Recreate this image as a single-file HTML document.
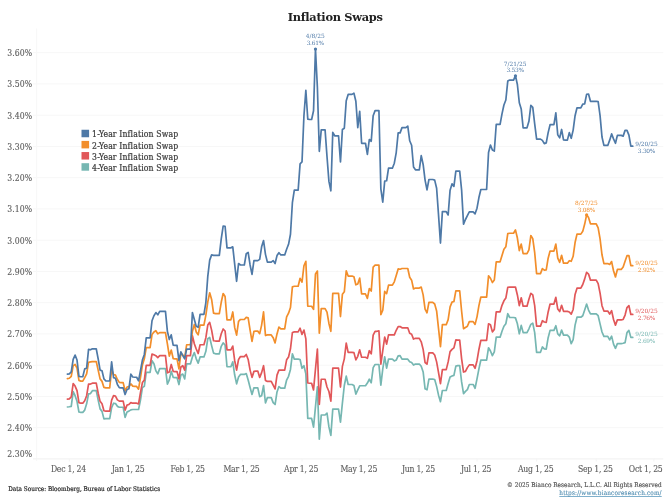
<!DOCTYPE html>
<html lang="en"><head><meta charset="utf-8"><title>Inflation Swaps</title>
<style>
html,body{margin:0;padding:0;background:#fff;}
body{width:670px;height:503px;position:relative;overflow:hidden;font-family:"DejaVu Serif","Liberation Serif",serif;}
.c{font-family:"DejaVu Serif Condensed","DejaVu Serif","Liberation Serif",serif;font-stretch:condensed;}
.title{position:absolute;left:0;width:670.3px;top:9.1px;text-align:center;font-weight:bold;font-size:11.4px;letter-spacing:-0.31px;line-height:16px;color:#222;}
.yl{position:absolute;left:0;width:32.3px;text-align:right;font-size:8.6px;letter-spacing:0.08px;line-height:12px;height:12px;color:#5c5c5c;-webkit-text-stroke:0.12px #5c5c5c;white-space:nowrap;}
.xl{position:absolute;top:462.9px;width:60px;text-align:center;font-size:8.6px;letter-spacing:-0.25px;line-height:12px;color:#5c5c5c;-webkit-text-stroke:0.12px #5c5c5c;white-space:nowrap;}
.leg{position:absolute;left:81.6px;top:129.4px;}
.leg div{position:relative;height:11.15px;line-height:11.15px;font-size:8.6px;letter-spacing:0.13px;color:#3c3c3c;-webkit-text-stroke:0.22px #3c3c3c;padding-left:10.5px;white-space:nowrap;}
.src{position:absolute;left:8.2px;top:483.1px;font-size:6.4px;line-height:12px;color:#2a2a2a;-webkit-text-stroke:0.2px #2a2a2a;white-space:nowrap;}
.cr{position:absolute;right:8.3px;top:479.2px;font-size:6.4px;letter-spacing:0.03px;line-height:12px;color:#505050;-webkit-text-stroke:0.15px #505050;white-space:nowrap;text-align:right;}
.url{position:absolute;right:8.3px;top:487.2px;font-size:6.4px;letter-spacing:0.16px;line-height:12px;color:#4e8cb0;-webkit-text-stroke:0.1px #4e8cb0;white-space:nowrap;text-decoration:underline;text-decoration-thickness:0.6px;text-underline-offset:0.6px;text-decoration-color:#7fb0cc;}
.ann{position:absolute;width:40px;text-align:center;font-size:5.9px;line-height:6.5px;white-space:nowrap;}
.ann b{font-weight:normal;letter-spacing:-0.28px;}
</style></head><body>
<svg width="670" height="503" viewBox="0 0 670 503" style="position:absolute;left:0;top:0">
<line x1="33" x2="663.3" y1="52.70" y2="52.70" stroke="#f7f7f7" stroke-width="1"/>
<line x1="33" x2="663.3" y1="83.95" y2="83.95" stroke="#f7f7f7" stroke-width="1"/>
<line x1="33" x2="663.3" y1="115.20" y2="115.20" stroke="#f7f7f7" stroke-width="1"/>
<line x1="33" x2="663.3" y1="146.45" y2="146.45" stroke="#f7f7f7" stroke-width="1"/>
<line x1="33" x2="663.3" y1="177.70" y2="177.70" stroke="#f7f7f7" stroke-width="1"/>
<line x1="33" x2="663.3" y1="208.95" y2="208.95" stroke="#f7f7f7" stroke-width="1"/>
<line x1="33" x2="663.3" y1="240.20" y2="240.20" stroke="#f7f7f7" stroke-width="1"/>
<line x1="33" x2="663.3" y1="271.45" y2="271.45" stroke="#f7f7f7" stroke-width="1"/>
<line x1="33" x2="663.3" y1="302.70" y2="302.70" stroke="#f7f7f7" stroke-width="1"/>
<line x1="33" x2="663.3" y1="333.95" y2="333.95" stroke="#f7f7f7" stroke-width="1"/>
<line x1="33" x2="663.3" y1="365.20" y2="365.20" stroke="#f7f7f7" stroke-width="1"/>
<line x1="33" x2="663.3" y1="396.45" y2="396.45" stroke="#f7f7f7" stroke-width="1"/>
<line x1="33" x2="663.3" y1="427.70" y2="427.70" stroke="#f7f7f7" stroke-width="1"/>
<line x1="36.6" x2="36.6" y1="28.5" y2="461" stroke="#f8f8f8" stroke-width="1.2"/>
<line x1="33" x2="663.3" y1="458.85" y2="458.85" stroke="#f3f3f3" stroke-width="1.2"/>
<line x1="69.32" x2="69.32" y1="458.6" y2="461.5" stroke="#f4f4f4" stroke-width="1"/>
<line x1="128.94" x2="128.94" y1="458.6" y2="461.5" stroke="#f4f4f4" stroke-width="1"/>
<line x1="188.55" x2="188.55" y1="458.6" y2="461.5" stroke="#f4f4f4" stroke-width="1"/>
<line x1="242.39" x2="242.39" y1="458.6" y2="461.5" stroke="#f4f4f4" stroke-width="1"/>
<line x1="302.01" x2="302.01" y1="458.6" y2="461.5" stroke="#f4f4f4" stroke-width="1"/>
<line x1="359.70" x2="359.70" y1="458.6" y2="461.5" stroke="#f4f4f4" stroke-width="1"/>
<line x1="419.31" x2="419.31" y1="458.6" y2="461.5" stroke="#f4f4f4" stroke-width="1"/>
<line x1="477.00" x2="477.00" y1="458.6" y2="461.5" stroke="#f4f4f4" stroke-width="1"/>
<line x1="536.61" x2="536.61" y1="458.6" y2="461.5" stroke="#f4f4f4" stroke-width="1"/>
<line x1="596.23" x2="596.23" y1="458.6" y2="461.5" stroke="#f4f4f4" stroke-width="1"/>
<line x1="653.91" x2="653.91" y1="458.6" y2="461.5" stroke="#f4f4f4" stroke-width="1"/>
<rect x="81.5" y="129.75" width="7.6" height="7.5" fill="#4E79A7"/>
<rect x="81.5" y="140.90" width="7.6" height="7.5" fill="#F28E2B"/>
<rect x="81.5" y="152.05" width="7.6" height="7.5" fill="#E15759"/>
<rect x="81.5" y="163.20" width="7.6" height="7.5" fill="#76B7B2"/>
<path d="M67.40,406.99 L69.32,406.74 L71.25,406.36 L73.17,391.56 L75.09,395.70 L77.02,401.34 L78.94,412.00 L80.86,412.38 L82.78,412.38 L84.71,410.12 L86.63,403.85 L88.55,393.82 L90.48,393.57 L92.40,390.69 L94.32,390.69 L96.25,390.69 L98.17,400.09 L100.09,408.87 L102.01,411.37 L103.94,418.90 L105.86,418.65 L107.78,418.65 L109.71,418.65 L111.63,407.61 L113.55,403.22 L115.48,403.60 L117.40,406.36 L119.32,407.24 L121.24,407.24 L123.17,407.24 L125.09,417.39 L127.01,412.00 L128.94,411.12 L130.86,409.87 L132.78,409.49 L134.71,409.49 L136.63,409.49 L138.55,409.49 L140.47,400.09 L142.40,387.55 L144.32,386.39 L146.24,372.35 L148.17,372.35 L150.09,372.35 L152.01,360.69 L153.94,363.82 L155.86,370.72 L157.78,373.85 L159.70,368.59 L161.63,368.59 L163.55,368.59 L165.47,368.59 L167.40,384.13 L169.32,379.87 L171.24,371.34 L173.17,377.36 L175.09,377.61 L177.01,377.61 L178.93,384.51 L180.86,375.11 L182.78,374.10 L184.70,378.87 L186.63,363.82 L188.55,363.82 L190.47,363.82 L192.40,356.93 L194.32,352.54 L196.24,358.81 L198.16,363.19 L200.09,356.93 L202.01,356.93 L203.93,356.93 L205.86,351.28 L207.78,338.75 L209.70,337.49 L211.62,345.64 L213.55,353.16 L215.47,353.82 L217.39,353.82 L219.32,353.82 L221.24,346.30 L223.16,342.91 L225.09,345.05 L227.01,366.74 L228.93,366.74 L230.86,366.74 L232.78,361.88 L234.70,375.05 L236.62,383.82 L238.55,376.93 L240.47,374.42 L242.39,374.42 L244.32,374.42 L246.24,373.54 L248.16,380.06 L250.09,387.58 L252.01,394.48 L253.93,387.83 L255.85,387.83 L257.78,387.83 L259.70,396.61 L261.62,395.73 L263.55,385.70 L265.47,403.00 L267.39,397.61 L269.31,397.61 L271.24,397.61 L273.16,402.63 L275.08,404.51 L277.01,391.97 L278.93,386.58 L280.85,388.21 L282.78,388.21 L284.70,388.21 L286.62,380.06 L288.55,376.30 L290.47,369.40 L292.39,353.82 L294.31,359.09 L296.24,359.09 L298.16,359.09 L300.08,359.49 L302.01,368.27 L303.93,365.76 L305.85,373.91 L307.77,418.37 L309.70,418.37 L311.62,418.37 L313.54,427.15 L315.47,406.84 L317.39,386.78 L319.31,439.18 L321.24,414.99 L323.16,414.99 L325.08,414.99 L327.00,413.11 L328.93,426.90 L330.85,435.42 L332.77,409.09 L334.70,409.09 L336.62,409.09 L338.54,409.09 L340.47,422.13 L342.39,403.08 L344.31,385.52 L346.24,376.12 L348.16,384.52 L350.08,384.52 L352.00,384.52 L353.93,385.52 L355.85,394.05 L357.77,389.91 L359.70,385.77 L361.62,385.77 L363.54,385.77 L365.47,385.77 L367.39,383.02 L369.31,379.25 L371.23,382.76 L373.16,367.64 L375.08,364.51 L377.00,364.51 L378.93,364.67 L380.85,385.11 L382.77,368.81 L384.70,356.90 L386.62,368.18 L388.54,359.03 L390.46,359.03 L392.39,359.03 L394.31,360.91 L396.23,360.03 L398.16,355.89 L400.08,355.64 L402.00,359.15 L403.93,359.15 L405.85,359.15 L407.77,359.15 L409.69,361.66 L411.62,362.54 L413.54,365.05 L415.46,364.04 L417.39,364.04 L419.31,364.04 L421.23,366.30 L423.15,371.94 L425.08,388.87 L427.00,389.87 L428.92,379.09 L430.85,379.09 L432.77,379.09 L434.69,379.46 L436.62,386.36 L438.54,395.14 L440.46,401.65 L442.38,390.50 L444.31,390.50 L446.23,390.50 L448.15,383.60 L450.08,376.96 L452.00,375.95 L453.92,375.33 L455.85,366.05 L457.77,365.67 L459.69,365.67 L461.62,381.97 L463.54,393.63 L465.46,391.37 L467.38,389.62 L469.31,384.48 L471.23,384.48 L473.15,384.48 L475.08,388.24 L477.00,378.84 L478.92,368.81 L480.85,360.03 L482.77,360.03 L484.69,360.03 L486.61,360.03 L488.54,347.74 L490.46,351.00 L492.38,355.64 L494.31,351.88 L496.23,337.16 L498.15,337.16 L500.08,337.16 L502.00,331.28 L503.92,326.27 L505.84,323.76 L507.77,313.73 L509.69,317.49 L511.61,317.49 L513.54,317.49 L515.46,317.87 L517.38,323.76 L519.31,333.79 L521.23,325.39 L523.15,332.54 L525.07,332.54 L527.00,332.54 L528.92,328.78 L530.84,324.39 L532.77,323.14 L534.69,332.64 L536.61,352.33 L538.53,352.33 L540.46,352.33 L542.38,346.94 L544.30,348.82 L546.23,349.07 L548.15,337.66 L550.07,330.39 L552.00,330.39 L553.92,330.39 L555.84,325.75 L557.76,333.90 L559.69,335.78 L561.61,330.14 L563.53,335.15 L565.46,335.15 L567.38,335.15 L569.30,337.03 L571.23,343.68 L573.15,339.54 L575.07,325.12 L577.00,317.22 L578.92,317.22 L580.84,317.22 L582.76,315.72 L584.69,310.08 L586.61,304.06 L588.53,310.08 L590.46,313.84 L592.38,313.84 L594.30,313.84 L596.23,313.84 L598.15,315.72 L600.07,323.85 L601.99,332.00 L603.92,336.39 L605.84,336.39 L607.76,336.39 L609.69,339.90 L611.61,336.14 L613.53,344.16 L615.46,348.30 L617.38,343.66 L619.30,343.66 L621.22,343.66 L623.15,343.28 L625.07,342.66 L626.99,332.63 L628.92,330.37 L630.84,337.39 L632.76,337.39" fill="none" stroke="#76B7B2" stroke-width="1.7" stroke-linejoin="round" stroke-linecap="round"/>
<path d="M67.40,399.09 L69.32,398.84 L71.25,396.96 L73.17,383.54 L75.09,386.05 L77.02,390.69 L78.94,402.60 L80.86,403.22 L82.78,403.22 L84.71,400.72 L86.63,395.70 L88.55,384.04 L90.48,384.04 L92.40,383.16 L94.32,383.16 L96.25,383.16 L98.17,393.19 L100.09,401.34 L102.01,403.85 L103.94,410.75 L105.86,411.12 L107.78,411.12 L109.71,411.12 L111.63,400.09 L113.55,395.70 L115.48,396.08 L117.40,399.84 L119.32,401.09 L121.24,401.09 L123.17,401.09 L125.09,410.12 L127.01,405.11 L128.94,404.48 L130.86,402.60 L132.78,403.22 L134.71,403.22 L136.63,403.22 L138.55,403.85 L140.47,392.57 L142.40,382.54 L144.32,380.12 L146.24,365.45 L148.17,365.45 L150.09,365.45 L152.01,354.04 L153.94,354.79 L155.86,355.67 L157.78,357.55 L159.70,355.67 L161.63,355.67 L163.55,355.67 L165.47,355.67 L167.40,372.85 L169.32,371.97 L171.24,364.45 L173.17,371.34 L175.09,371.59 L177.01,371.59 L178.93,378.87 L180.86,366.96 L182.78,365.70 L184.70,370.09 L186.63,355.67 L188.55,355.67 L190.47,355.67 L192.40,335.61 L194.32,343.76 L196.24,349.03 L198.16,353.54 L200.09,344.76 L202.01,344.76 L203.93,344.76 L205.86,337.74 L207.78,325.11 L209.70,322.35 L211.62,330.12 L213.55,340.78 L215.47,341.03 L217.39,341.03 L219.32,341.03 L221.24,333.76 L223.16,329.00 L225.09,331.00 L227.01,349.81 L228.93,349.81 L230.86,349.81 L232.78,346.05 L234.70,360.72 L236.62,370.12 L238.55,359.46 L240.47,356.58 L242.39,356.58 L244.32,356.58 L246.24,354.45 L248.16,359.46 L250.09,370.12 L252.01,377.39 L253.93,371.37 L255.85,371.12 L257.78,371.12 L259.70,377.39 L261.62,372.63 L263.55,365.73 L265.47,380.40 L267.39,381.40 L269.31,381.40 L271.24,381.40 L273.16,385.17 L275.08,388.93 L277.01,375.14 L278.93,370.12 L280.85,370.12 L282.78,370.12 L284.70,370.12 L286.62,359.84 L288.55,356.96 L290.47,348.81 L292.39,332.51 L294.31,331.88 L296.24,331.88 L298.16,331.88 L300.08,328.15 L302.01,334.42 L303.93,330.03 L305.85,338.81 L307.77,383.02 L309.70,383.27 L311.62,383.27 L313.54,389.91 L315.47,368.97 L317.39,349.16 L319.31,404.33 L321.24,379.25 L323.16,379.25 L325.08,379.25 L327.00,387.03 L328.93,391.54 L330.85,401.19 L332.77,368.22 L334.70,368.22 L336.62,368.22 L338.54,368.22 L340.47,387.03 L342.39,366.39 L344.31,358.87 L346.24,343.19 L348.16,352.35 L350.08,352.35 L352.00,352.35 L353.93,352.60 L355.85,359.87 L357.77,356.36 L359.70,349.84 L361.62,357.24 L363.54,357.24 L365.47,357.24 L367.39,358.24 L369.31,350.72 L371.23,353.85 L373.16,335.05 L375.08,331.28 L377.00,331.28 L378.93,330.91 L380.85,364.14 L382.77,350.60 L384.70,337.06 L386.62,344.08 L388.54,334.93 L390.46,334.93 L392.39,334.93 L394.31,334.93 L396.23,330.29 L398.16,326.53 L400.08,326.53 L402.00,327.78 L403.93,327.78 L405.85,327.78 L407.77,327.78 L409.69,333.30 L411.62,334.30 L413.54,339.06 L415.46,338.31 L417.39,338.31 L419.31,338.31 L421.23,341.82 L423.15,349.34 L425.08,362.51 L427.00,364.14 L428.92,352.85 L430.85,352.85 L432.77,352.85 L434.69,354.99 L436.62,361.88 L438.54,372.54 L440.46,383.57 L442.38,369.65 L444.31,369.65 L446.23,369.65 L448.15,361.88 L450.08,351.60 L452.00,349.34 L453.92,347.84 L455.85,339.94 L457.77,340.05 L459.69,340.05 L461.62,358.85 L463.54,372.02 L465.46,371.39 L467.38,367.63 L469.31,364.87 L471.23,364.87 L473.15,364.87 L475.08,368.25 L477.00,360.73 L478.92,349.45 L480.85,340.30 L482.77,340.30 L484.69,340.30 L486.61,340.30 L488.54,323.75 L490.46,324.75 L492.38,331.90 L494.31,329.39 L496.23,311.85 L498.15,311.85 L500.08,311.85 L502.00,305.33 L503.92,300.82 L505.84,298.06 L507.77,287.40 L509.69,287.03 L511.61,287.03 L513.54,287.03 L515.46,287.03 L517.38,294.93 L519.31,305.58 L521.23,297.81 L523.15,306.21 L525.07,306.21 L527.00,306.21 L528.92,299.31 L530.84,293.30 L532.77,294.93 L534.69,305.69 L536.61,326.12 L538.53,326.12 L540.46,326.12 L542.38,320.73 L544.30,321.99 L546.23,322.36 L548.15,311.96 L550.07,304.06 L552.00,304.06 L553.92,304.06 L555.84,297.29 L557.76,309.07 L559.69,311.58 L561.61,305.31 L563.53,311.33 L565.46,311.33 L567.38,311.33 L569.30,311.96 L571.23,314.09 L573.15,309.45 L575.07,294.40 L577.00,288.13 L578.92,288.13 L580.84,288.13 L582.76,284.51 L584.69,278.87 L586.61,272.35 L588.53,274.10 L590.46,280.12 L592.38,280.12 L594.30,280.12 L596.23,280.12 L598.15,283.63 L600.07,293.13 L601.99,305.67 L603.92,311.06 L605.84,311.06 L607.76,311.06 L609.69,314.07 L611.61,310.69 L613.53,319.46 L615.46,325.11 L617.38,319.84 L619.30,319.84 L621.22,319.84 L623.15,319.46 L625.07,315.08 L626.99,307.55 L628.92,305.67 L630.84,314.45 L632.76,314.45" fill="none" stroke="#E15759" stroke-width="1.7" stroke-linejoin="round" stroke-linecap="round"/>
<path d="M67.40,378.62 L69.32,378.24 L71.25,376.36 L73.17,365.70 L75.09,364.45 L77.02,368.21 L78.94,380.37 L80.86,381.12 L82.78,381.12 L84.71,377.61 L86.63,373.85 L88.55,362.32 L90.48,361.94 L92.40,361.56 L94.32,361.56 L96.25,361.56 L98.17,370.09 L100.09,378.87 L102.01,381.37 L103.94,387.39 L105.86,387.89 L107.78,387.89 L109.71,387.89 L111.63,369.46 L113.55,374.48 L115.48,375.11 L117.40,379.49 L119.32,382.38 L121.24,382.63 L123.17,382.63 L125.09,390.78 L127.01,387.02 L128.94,386.64 L130.86,383.88 L132.78,386.14 L134.71,386.39 L136.63,386.39 L138.55,389.15 L140.47,377.61 L142.40,365.08 L144.32,358.81 L146.24,347.67 L148.17,347.67 L150.09,347.67 L152.01,334.51 L153.94,332.00 L155.86,330.75 L157.78,333.88 L159.70,332.63 L161.63,332.63 L163.55,332.63 L165.47,332.63 L167.40,343.91 L169.32,356.05 L171.24,350.03 L173.17,358.56 L175.09,358.81 L177.01,358.81 L178.93,368.84 L180.86,353.16 L182.78,355.05 L184.70,357.55 L186.63,344.76 L188.55,344.76 L190.47,344.76 L192.40,331.37 L194.32,324.48 L196.24,332.00 L198.16,334.88 L200.09,325.11 L202.01,325.11 L203.93,325.11 L205.86,315.08 L207.78,301.91 L209.70,292.76 L211.62,299.40 L213.55,313.19 L215.47,313.59 L217.39,313.59 L219.32,313.59 L221.24,302.30 L223.16,293.53 L225.09,296.53 L227.01,319.85 L228.93,319.85 L230.86,319.85 L232.78,311.96 L234.70,327.63 L236.62,335.15 L238.55,321.36 L240.47,319.48 L242.39,319.48 L244.32,319.48 L246.24,317.35 L248.16,317.85 L250.09,330.14 L252.01,341.42 L253.93,331.39 L255.85,331.14 L257.78,331.14 L259.70,333.65 L261.62,325.12 L263.55,311.96 L265.47,335.53 L267.39,334.90 L269.31,334.90 L271.24,334.90 L273.16,337.66 L275.08,342.92 L277.01,333.90 L278.93,327.00 L280.85,328.88 L282.78,328.88 L284.70,328.88 L286.62,316.97 L288.55,313.21 L290.47,307.57 L292.39,286.88 L294.31,286.25 L296.24,286.25 L298.16,286.25 L300.08,278.30 L302.01,282.06 L303.93,265.76 L305.85,261.37 L307.77,306.26 L309.70,306.26 L311.62,306.26 L313.54,309.39 L315.47,273.91 L317.39,271.03 L319.31,333.21 L321.24,308.64 L323.16,308.64 L325.08,308.64 L327.00,312.15 L328.93,323.43 L330.85,331.33 L332.77,293.34 L334.70,293.34 L336.62,293.34 L338.54,293.34 L340.47,316.54 L342.39,294.35 L344.31,291.84 L346.24,270.78 L348.16,276.04 L350.08,276.04 L352.00,276.04 L353.93,276.79 L355.85,284.82 L357.77,283.94 L359.70,278.05 L361.62,293.97 L363.54,293.97 L365.47,293.97 L367.39,298.36 L369.31,288.58 L371.23,291.09 L373.16,267.02 L375.08,265.13 L377.00,265.13 L378.93,265.13 L380.85,314.66 L382.77,310.27 L384.70,291.46 L386.62,293.59 L388.54,285.19 L390.46,285.19 L392.39,285.19 L394.31,281.81 L396.23,275.54 L398.16,268.90 L400.08,269.27 L402.00,268.52 L403.93,268.52 L405.85,268.52 L407.77,268.52 L409.69,277.30 L411.62,280.18 L413.54,288.96 L415.46,288.08 L417.39,288.08 L419.31,288.08 L421.23,287.08 L423.15,294.85 L425.08,309.02 L427.00,312.78 L428.92,302.37 L430.85,302.37 L432.77,302.37 L434.69,304.00 L436.62,310.90 L438.54,328.70 L440.46,346.63 L442.38,324.69 L444.31,324.69 L446.23,324.69 L448.15,319.67 L450.08,306.88 L452.00,302.12 L453.92,301.49 L455.85,290.84 L457.77,290.79 L459.69,290.79 L461.62,311.22 L463.54,328.78 L465.46,327.52 L467.38,326.27 L469.31,321.63 L471.23,321.63 L473.15,321.63 L475.08,324.39 L477.00,316.87 L478.92,305.58 L480.85,297.06 L482.77,297.06 L484.69,297.06 L486.61,297.06 L488.54,275.87 L490.46,278.25 L492.38,282.51 L494.31,280.01 L496.23,261.85 L498.15,261.85 L500.08,261.85 L502.00,255.58 L503.92,249.31 L505.84,246.81 L507.77,233.64 L509.69,233.27 L511.61,233.27 L513.54,233.27 L515.46,229.88 L517.38,238.03 L519.31,250.57 L521.23,244.05 L523.15,253.70 L525.07,253.70 L527.00,253.70 L528.92,249.94 L530.84,235.52 L532.77,238.66 L534.69,252.54 L536.61,273.60 L538.53,273.60 L540.46,273.60 L542.38,268.59 L544.30,270.09 L546.23,269.84 L548.15,258.18 L550.07,251.03 L552.00,251.03 L553.92,251.03 L555.84,244.01 L557.76,258.18 L559.69,262.32 L561.61,255.30 L563.53,263.19 L565.46,263.19 L567.38,263.19 L569.30,260.69 L571.23,261.31 L573.15,256.30 L575.07,242.51 L577.00,234.12 L578.92,234.12 L580.84,234.12 L582.76,231.36 L584.69,224.09 L586.61,214.81 L588.53,217.57 L590.46,223.84 L592.38,223.84 L594.30,223.84 L596.23,223.84 L598.15,227.85 L600.07,238.87 L601.99,254.79 L603.92,263.57 L605.84,263.57 L607.76,263.57 L609.69,264.45 L611.61,261.56 L613.53,270.72 L615.46,276.99 L617.38,269.46 L619.30,269.46 L621.22,269.46 L623.15,266.96 L625.07,261.31 L626.99,255.67 L628.92,255.67 L630.84,265.70 L632.76,265.70" fill="none" stroke="#F28E2B" stroke-width="1.7" stroke-linejoin="round" stroke-linecap="round"/>
<path d="M67.40,374.10 L69.32,373.85 L71.25,371.97 L73.17,359.43 L75.09,355.05 L77.02,360.06 L78.94,376.36 L80.86,376.74 L82.78,376.74 L84.71,368.84 L86.63,368.21 L88.55,349.40 L90.48,349.78 L92.40,348.78 L94.32,348.78 L96.25,348.78 L98.17,358.81 L100.09,370.09 L102.01,370.72 L103.94,378.87 L105.86,381.00 L107.78,381.00 L109.71,381.00 L111.63,361.94 L113.55,377.61 L115.48,378.24 L117.40,384.51 L119.32,387.64 L121.24,387.89 L123.17,387.89 L125.09,394.54 L127.01,389.52 L128.94,388.65 L130.86,374.10 L132.78,376.99 L134.71,377.24 L136.63,377.24 L138.55,380.75 L140.47,370.72 L142.40,360.06 L144.32,354.42 L146.24,337.89 L148.17,337.89 L150.09,337.89 L152.01,320.72 L153.94,315.70 L155.86,312.57 L157.78,314.82 L159.70,311.31 L161.63,311.31 L163.55,311.31 L165.47,311.31 L167.40,331.37 L169.32,339.52 L171.24,334.88 L173.17,345.17 L175.09,345.39 L177.01,345.39 L178.93,360.69 L180.86,351.91 L182.78,355.67 L184.70,358.81 L186.63,349.03 L188.55,349.03 L190.47,349.03 L192.40,312.57 L194.32,319.46 L196.24,326.36 L198.16,327.36 L200.09,314.45 L202.01,314.45 L203.93,314.45 L205.86,302.54 L207.78,276.43 L209.70,260.14 L211.62,254.87 L213.55,255.37 L215.47,255.37 L217.39,255.37 L219.32,255.37 L221.24,238.82 L223.16,226.03 L225.09,226.28 L227.01,247.85 L228.93,247.85 L230.86,247.85 L232.78,246.81 L234.70,264.36 L236.62,281.28 L238.55,263.48 L240.47,264.99 L242.39,264.99 L244.32,264.99 L246.24,253.70 L248.16,252.45 L250.09,264.99 L252.01,274.39 L253.93,260.60 L255.85,260.60 L257.78,260.60 L259.70,259.34 L261.62,246.81 L263.55,240.54 L265.47,254.33 L267.39,262.10 L269.31,262.10 L271.24,262.10 L273.16,260.60 L275.08,263.48 L277.01,255.58 L278.93,252.70 L280.85,254.96 L282.78,254.96 L284.70,254.96 L286.62,249.31 L288.55,244.30 L290.47,234.27 L292.39,202.69 L294.31,190.15 L296.24,190.15 L298.16,190.15 L300.08,163.82 L302.01,161.94 L303.93,115.72 L305.85,90.27 L307.77,119.10 L309.70,119.48 L311.62,119.48 L313.54,110.70 L315.47,49.02 L317.39,87.51 L319.31,151.32 L321.24,129.88 L323.16,129.88 L325.08,129.88 L327.00,156.46 L328.93,181.41 L330.85,190.82 L332.77,132.39 L334.70,135.78 L336.62,135.78 L338.54,135.78 L340.47,161.98 L342.39,129.51 L344.31,128.25 L346.24,100.67 L348.16,94.40 L350.08,94.40 L352.00,94.40 L353.93,93.15 L355.85,101.30 L357.77,127.63 L359.70,111.33 L361.62,143.30 L363.54,143.30 L365.47,143.26 L367.39,154.42 L369.31,139.50 L371.23,141.25 L373.16,115.68 L375.08,110.66 L377.00,110.66 L378.93,110.66 L380.85,188.90 L382.77,202.06 L384.70,181.12 L386.62,180.75 L388.54,168.21 L390.46,168.21 L392.39,168.21 L394.31,163.19 L396.23,152.54 L398.16,132.85 L400.08,132.85 L402.00,127.59 L403.93,127.59 L405.85,127.59 L407.77,126.08 L409.69,140.75 L411.62,145.27 L413.54,166.96 L415.46,169.84 L417.39,169.84 L419.31,169.84 L421.23,155.67 L423.15,164.45 L425.08,180.12 L427.00,189.90 L428.92,179.49 L430.85,179.49 L432.77,179.49 L434.69,180.12 L436.62,188.27 L438.54,215.10 L440.46,243.06 L442.38,211.59 L444.31,211.59 L446.23,211.59 L448.15,214.97 L450.08,190.15 L452.00,183.88 L453.92,186.39 L455.85,171.09 L457.77,171.09 L459.69,171.09 L461.62,190.15 L463.54,224.13 L465.46,219.49 L467.38,215.73 L469.31,211.97 L471.23,211.97 L473.15,211.97 L475.08,213.85 L477.00,208.20 L478.92,197.55 L480.85,189.52 L482.77,189.52 L484.69,189.52 L486.61,189.52 L488.54,152.54 L490.46,145.02 L492.38,150.03 L494.31,151.03 L496.23,124.46 L498.15,124.46 L500.08,124.46 L502.00,113.81 L503.92,105.03 L505.84,100.02 L507.77,81.08 L509.69,80.08 L511.61,80.08 L513.54,80.08 L515.46,75.69 L517.38,84.47 L519.31,102.77 L521.23,109.04 L523.15,127.85 L525.07,127.85 L527.00,127.85 L528.92,121.33 L530.84,105.28 L532.77,107.29 L534.69,123.84 L536.61,139.13 L538.53,139.13 L540.46,139.13 L542.38,140.39 L544.30,143.65 L546.23,142.89 L548.15,132.61 L550.07,124.71 L552.00,124.71 L553.92,124.71 L555.84,112.80 L557.76,134.87 L559.69,137.88 L561.61,129.48 L563.53,139.88 L565.46,140.15 L567.38,140.15 L569.30,132.63 L571.23,138.27 L573.15,130.12 L575.07,115.70 L577.00,107.80 L578.92,107.80 L580.84,107.80 L582.76,104.04 L584.69,103.79 L586.61,94.39 L588.53,94.01 L590.46,101.28 L592.38,101.28 L594.30,101.28 L596.23,101.28 L598.15,101.53 L600.07,115.70 L601.99,137.02 L603.92,145.42 L605.84,145.42 L607.76,145.42 L609.69,140.15 L611.61,133.88 L613.53,138.90 L615.46,143.28 L617.38,135.39 L619.30,135.39 L621.22,135.39 L623.15,136.14 L625.07,130.37 L626.99,130.37 L628.92,135.14 L630.84,146.17 L632.76,146.17" fill="none" stroke="#4E79A7" stroke-width="1.7" stroke-linejoin="round" stroke-linecap="round"/>
<circle cx="315.47" cy="49.12" r="1.6" fill="#4E79A7"/>
<circle cx="515.46" cy="75.79" r="1.6" fill="#4E79A7"/>
<circle cx="586.61" cy="214.91" r="1.6" fill="#F28E2B"/>
</svg>
<div class="title">Inflation Swaps</div>
<div class="yl c" style="top:47.10px">3.60%</div><div class="yl c" style="top:78.35px">3.50%</div><div class="yl c" style="top:109.60px">3.40%</div><div class="yl c" style="top:140.85px">3.30%</div><div class="yl c" style="top:172.10px">3.20%</div><div class="yl c" style="top:203.35px">3.10%</div><div class="yl c" style="top:234.60px">3.00%</div><div class="yl c" style="top:265.85px">2.90%</div><div class="yl c" style="top:297.10px">2.80%</div><div class="yl c" style="top:328.35px">2.70%</div><div class="yl c" style="top:359.60px">2.60%</div><div class="yl c" style="top:390.85px">2.50%</div><div class="yl c" style="top:422.10px">2.40%</div><div class="yl c" style="top:447.9px">2.30%</div>
<div class="xl c" style="left:38.42px">Dec 1, 24</div><div class="xl c" style="left:98.04px">Jan 1, 25</div><div class="xl c" style="left:157.65px">Feb 1, 25</div><div class="xl c" style="left:211.49px">Mar 1, 25</div><div class="xl c" style="left:271.11px">Apr 1, 25</div><div class="xl c" style="left:328.80px">May 1, 25</div><div class="xl c" style="left:388.41px">Jun 1, 25</div><div class="xl c" style="left:446.10px">Jul 1, 25</div><div class="xl c" style="left:505.71px">Aug 1, 25</div><div class="xl c" style="left:565.33px">Sep 1, 25</div><div class="xl c" style="left:602.5px;text-align:right">Oct 1, 25</div>
<div class="leg c">
<div>1-Year Inflation Swap</div>
<div>2-Year Inflation Swap</div>
<div>3-Year Inflation Swap</div>
<div>4-Year Inflation Swap</div>
</div>
<div class="ann" style="left:295.3px;top:33.00px;color:#4E79A7">4/8/25<br><b>3.61%</b></div>
<div class="ann" style="left:495.2px;top:60.60px;color:#4E79A7">7/21/25<br><b>3.53%</b></div>
<div class="ann" style="left:566.4px;top:200.00px;color:#F28E2B">8/27/25<br><b>3.08%</b></div>
<div class="ann" style="left:626.5px;top:141.00px;color:#4E79A7">9/20/25<br><b>3.30%</b></div>
<div class="ann" style="left:626.5px;top:260.00px;color:#F28E2B">9/20/25<br><b>2.92%</b></div>
<div class="ann" style="left:626.5px;top:308.40px;color:#E15759">9/20/25<br><b>2.76%</b></div>
<div class="ann" style="left:626.5px;top:331.40px;color:#76B7B2">9/20/25<br><b>2.69%</b></div>
<div class="src c">Data Source: Bloomberg, Bureau of Labor Statistics</div>
<div class="cr c">© 2025 Bianco Research, L.L.C. All Rights Reserved</div>
<div class="url c">https://www.biancoresearch.com/</div>
</body></html>
